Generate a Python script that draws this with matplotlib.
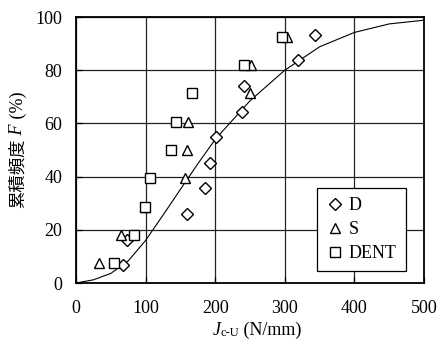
'''
Cumulative frequency of J_c-U for D, S and DENT specimens.
'''
import matplotlib
matplotlib.use('Agg')
import matplotlib.pyplot as plt

# D specimens
d_x = [68, 73, 160, 185, 192, 201, 238, 241, 319, 344]
d_f = [6.7, 16.3, 26.0, 35.6, 45.2, 54.8, 64.4, 74.0, 83.7, 93.3]
# S specimens
s_x = [33, 64, 99, 157, 160, 161, 250, 252, 303]
s_f = [7.4, 18.1, 28.7, 39.4, 50.0, 60.6, 71.3, 81.9, 92.6]
# DENT specimens
dent_x = [54, 84, 99, 106, 137, 144, 166, 241, 296]
dent_f = [7.4, 18.1, 28.7, 39.4, 50.0, 60.6, 71.3, 81.9, 92.6]
# fitted curve
fit_x = [0, 25, 50, 75, 100, 125, 150, 175, 200, 250, 300, 350, 400, 450, 500]
fit_f = [0, 1.2, 3.6, 8.3, 16.0, 25.5, 35.2, 44.8, 54.0, 68.5, 80.0, 88.8, 94.2, 97.4, 98.8]

SERIF = 'Liberation Serif'
CJK = 'Noto Sans CJK JP'
FS = 12.5

plt.rcParams['font.family'] = [SERIF, CJK]
plt.rcParams['font.size'] = FS

fig = plt.figure(figsize=(4.39, 3.47), dpi=100)
ax = fig.add_axes([76 / 439, 1 - 283 / 347, 348 / 439, 266 / 347])

ax.grid(True, color='#222222', linewidth=0.9)
ax.set_axisbelow(True)

ax.plot(fit_x, fit_f, color='black', linewidth=0.8, zorder=2)

mk = dict(linestyle='none', markerfacecolor='white', markeredgecolor='black',
          markeredgewidth=1.0, zorder=3)
ax.plot(d_x, d_f, marker='D', markersize=5.8, label='D', **mk)
ax.plot(s_x, s_f, marker='^', markersize=7.8, label='S', **mk)
ax.plot(dent_x, dent_f, marker='s', markersize=7.6, label='DENT', **mk)

ax.set_xlim(0, 500)
ax.set_ylim(0, 100)
ax.set_xticks(range(0, 501, 100))
ax.set_yticks(range(0, 101, 20))
ax.tick_params(direction='in', length=4, width=0.9, color='black',
               labelsize=FS + 0.5)
ax.tick_params(axis='x', pad=12)
ax.tick_params(axis='y', pad=10)
for sp in ax.spines.values():
    sp.set_linewidth(1.3)
    sp.set_color('black')

leg = ax.legend(loc='lower right', bbox_to_anchor=(0.948, 0.045),
                borderaxespad=0,
                frameon=True, fancybox=False, framealpha=1, edgecolor='black',
                handlelength=0.9, handletextpad=0.35, labelspacing=0.38,
                borderpad=0.5, fontsize=FS + 0.5)
leg.get_frame().set_linewidth(0.9)

# x label: J (italic) + subscript c-U + units
renderer = fig.canvas.get_renderer()
xl_y = 1 - 335 / 347
parts = [('J', dict(fontstyle='italic', fontsize=FS + 0.5), 0),
         ('c-U', dict(fontsize=9), -0.002),
         (' (N/mm)', dict(fontsize=FS + 0.5), 0)]
texts = []
x = 0
for s, kw, dy in parts:
    t = fig.text(x, xl_y + dy, s, ha='left', va='baseline', family=SERIF, **kw)
    w = t.get_window_extent(renderer).width / fig.bbox.width
    texts.append((t, w))
    x += w
x0 = (257 / 439) - x / 2
for t, w in texts:
    t.set_x(x0)
    x0 += w

# y label: CJK + italic F + (%)
parts = [('累積頻度', dict(family=CJK, fontsize=FS)),
         (' F', dict(family=SERIF, fontstyle='italic', fontsize=FS + 0.5)),
         (' (%)', dict(family=SERIF, fontsize=FS + 0.5))]
texts = []
y = 0
yl_x = 18 / 439
for s, kw in parts:
    t = fig.text(yl_x, y, s, rotation=90, ha='center', va='bottom', **kw)
    h = t.get_window_extent(renderer).height / fig.bbox.height
    texts.append((t, h))
    y += h
y0 = (1 - 150 / 347) - y / 2
for t, h in texts:
    t.set_y(y0)
    y0 += h

fig.savefig('out.png', dpi=100)
